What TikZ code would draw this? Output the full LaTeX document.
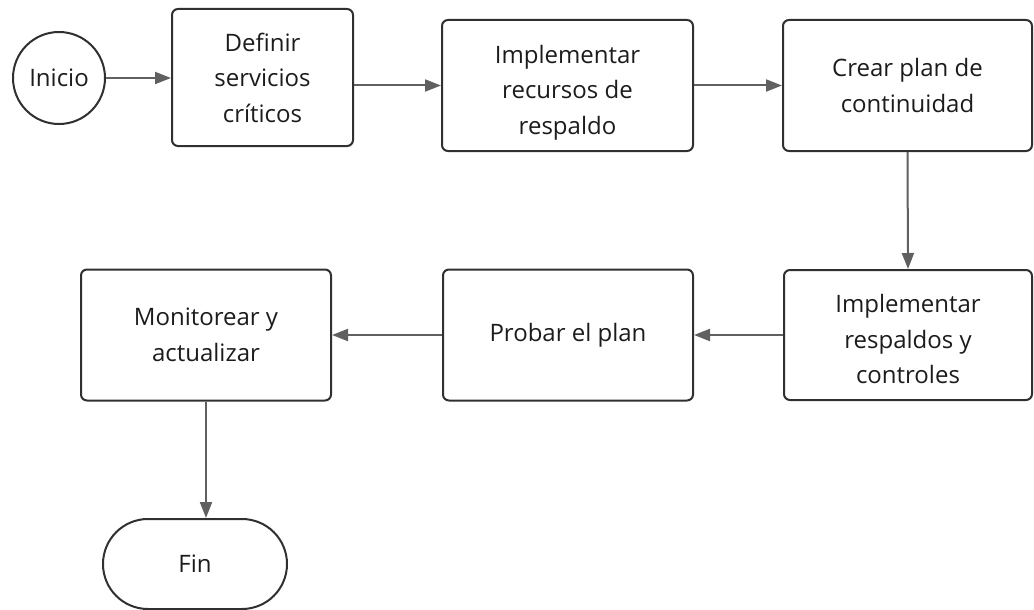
\documentclass[tikz,border=0pt]{standalone}
\usepackage{fontspec}
\setmainfont{Open Sans}
\usetikzlibrary{arrows.meta}
\definecolor{edge}{HTML}{303030}
\definecolor{link}{HTML}{606060}
\definecolor{ink}{HTML}{1C1C1C}
\begin{document}
\begin{tikzpicture}[x=1pt,y=-1pt,
  every node/.style={font=\fontsize{24}{35.5}\selectfont, text=ink, align=center, inner sep=0pt},
  stepbox/.style={draw=edge, line width=2pt, rounded corners=6pt, fill=white},
  flow/.style={draw=link, line width=2pt, -{Triangle[length=16pt,width=12pt]}}]
  \useasboundingbox[fill=white] (0,0) rectangle (1034,610);

  % start and end terminals
  \node[draw=edge, line width=2pt, circle, minimum size=92pt] (inicio) at (59,78) {Inicio};
  \node[draw=edge, line width=2pt, rectangle, rounded corners=45pt,
        minimum width=184pt, minimum height=90pt] (fin) at (195,564) {Fin};

  % process steps
  \node[stepbox, minimum width=181pt, minimum height=137pt] (s1) at (262.5,77.5) {Definir\\servicios\\críticos};
  \node[stepbox, minimum width=251pt, minimum height=131pt] (s2) at (567.5,85.5) {};
  \node (t2) at ([yshift=-7pt]s2.center) {Implementar\\recursos de\\respaldo};
  \node[stepbox, minimum width=249pt, minimum height=131pt] (s3) at (907.5,85.5) {Crear plan de\\continuidad};
  \node[stepbox, minimum width=248pt, minimum height=130pt] (s4) at (908,335) {};
  \node (t4) at ([yshift=-4pt]s4.center) {Implementar\\respaldos y\\controles};
  \node[stepbox, minimum width=250pt, minimum height=131pt] (s5) at (568,335) {Probar el plan};
  \node[stepbox, minimum width=250pt, minimum height=131pt] (s6) at (206,335) {Monitorear y\\actualizar};

  % connectors
  \draw[flow] (inicio.east) -- (s1.west |- inicio.east);
  \draw[flow] (s1.east |- s2.west) -- (s2.west);
  \draw[flow] (s2.east) -- (s3.west);
  \draw[flow] (s3.south) -- (s4.north);
  \draw[flow] (s4.west) -- (s5.east);
  \draw[flow] (s5.west) -- (s6.east);
  \draw[flow] (s6.south) -- (s6.south |- fin.north);
\end{tikzpicture}
\end{document}
